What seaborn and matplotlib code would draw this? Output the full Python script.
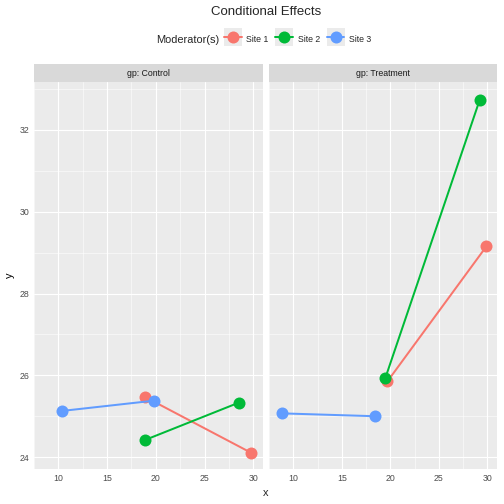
import matplotlib
matplotlib.use("Agg")
import matplotlib.pyplot as plt
from matplotlib.lines import Line2D
from matplotlib.legend_handler import HandlerTuple
import seaborn as sns
import pandas as pd

# ---- data ----
groups = ["Control", "Treatment"]
sites = ["Site 1", "Site 2", "Site 3"]
control_x = {"Site 1": [18.9, 29.75], "Site 2": [18.9, 28.5], "Site 3": [10.4, 19.8]}
control_y = {"Site 1": [25.47, 24.11], "Site 2": [24.42, 25.33], "Site 3": [25.13, 25.38]}
treat_x = {"Site 1": [19.7, 29.9], "Site 2": [19.5, 29.2], "Site 3": [8.8, 18.45]}
treat_y = {"Site 1": [25.85, 29.15], "Site 2": [25.94, 32.72], "Site 3": [25.07, 25.0]}
colors = ["#F8766D", "#00BA38", "#619CFF"]
xticks = [10, 15, 20, 25, 30]
yticks = [24, 26, 28, 30, 32]

rows = []
for g, xs, ys in [("Control", control_x, control_y), ("Treatment", treat_x, treat_y)]:
    for s in sites:
        for xv, yv in zip(xs[s], ys[s]):
            rows.append({"gp": g, "site": s, "x": xv, "y": yv})
df = pd.DataFrame(rows)

sns.set_style("white")
plt.rcParams["font.family"] = ["Liberation Sans", "DejaVu Sans"]

W = 504
fig = plt.figure(figsize=(7, 7), dpi=72)

def frac_x(px):
    return px / W

def frac_y(px):
    return 1 - px / W

panels = [(34, 263), (269, 497)]
ptop, pbot = 82, 469
stop = 64

palette = dict(zip(sites, colors))
axes = []
for i, (g, (l, r)) in enumerate(zip(groups, panels)):
    ax = fig.add_axes([frac_x(l), frac_y(pbot), frac_x(r - l), (pbot - ptop) / W])
    ax.set_facecolor("#EBEBEB")
    sub = df[df.gp == g]
    sns.lineplot(data=sub, x="x", y="y", hue="site", palette=palette, sort=False,
                 estimator=None, marker="o", markersize=12, markeredgewidth=0,
                 linewidth=2, ax=ax, legend=False, zorder=3)
    ax.set_xlim(7.65, 31.0)
    ax.set_ylim(23.71, 33.17)
    ax.set_xticks(xticks)
    ax.set_yticks(yticks)
    ax.set_xticks([7.5, 12.5, 17.5, 22.5, 27.5], minor=True)
    ax.set_yticks([25, 27, 29, 31, 33], minor=True)
    ax.grid(True, which="major", color="white", linewidth=1.1, zorder=0)
    ax.grid(True, which="minor", color="white", linewidth=0.55, zorder=0)
    ax.set_axisbelow(True)
    for sp in ax.spines.values():
        sp.set_visible(False)
    ax.tick_params(which="major", length=3, width=0.8, color="#333333",
                   labelsize=8.8, labelcolor="#4D4D4D", pad=2)
    ax.tick_params(which="minor", length=0)
    ax.set_xlabel("")
    if i == 0:
        ax.set_ylabel("y", fontsize=11, color="black", labelpad=4)
    else:
        ax.set_ylabel("")
        ax.tick_params(axis="y", which="major", length=0, labelleft=False)
    axes.append(ax)

    sax = fig.add_axes([frac_x(l), frac_y(ptop), frac_x(r - l), (ptop - stop) / W])
    sax.set_facecolor("#D9D9D9")
    sax.set_xticks([]); sax.set_yticks([])
    for sp in sax.spines.values():
        sp.set_visible(False)
    sax.text(0.5, 0.5, f"gp: {g}", ha="center", va="center", fontsize=8.8,
             color="#1A1A1A", transform=sax.transAxes)

fig.text(frac_x(266), frac_y(493), "x", ha="center", va="center", fontsize=11)
fig.text(frac_x(266), frac_y(12), "Conditional Effects", ha="center", va="center", fontsize=13.2)

# legend
fig.text(frac_x(156), frac_y(40), "Moderator(s)", ha="left", va="center", fontsize=11)
handles = []
for c in colors:
    handles.append((Line2D([], [], color="#EBEBEB", marker="s", markersize=17.5,
                           markeredgewidth=0, linestyle="none"),
                    Line2D([], [], color=c, marker="o", markersize=12,
                           markeredgewidth=0, linewidth=2)))
leg = fig.legend(handles, sites, loc="center left", bbox_to_anchor=(frac_x(224), frac_y(39)),
                 ncol=3, frameon=False, fontsize=8.8,
                 handler_map={tuple: HandlerTuple(ndivide=1, pad=0)},
                 handlelength=2.0, handleheight=2.0, handletextpad=0.55, columnspacing=0.75,
                 borderaxespad=0, borderpad=0)

fig.savefig("out.png", dpi=72)
